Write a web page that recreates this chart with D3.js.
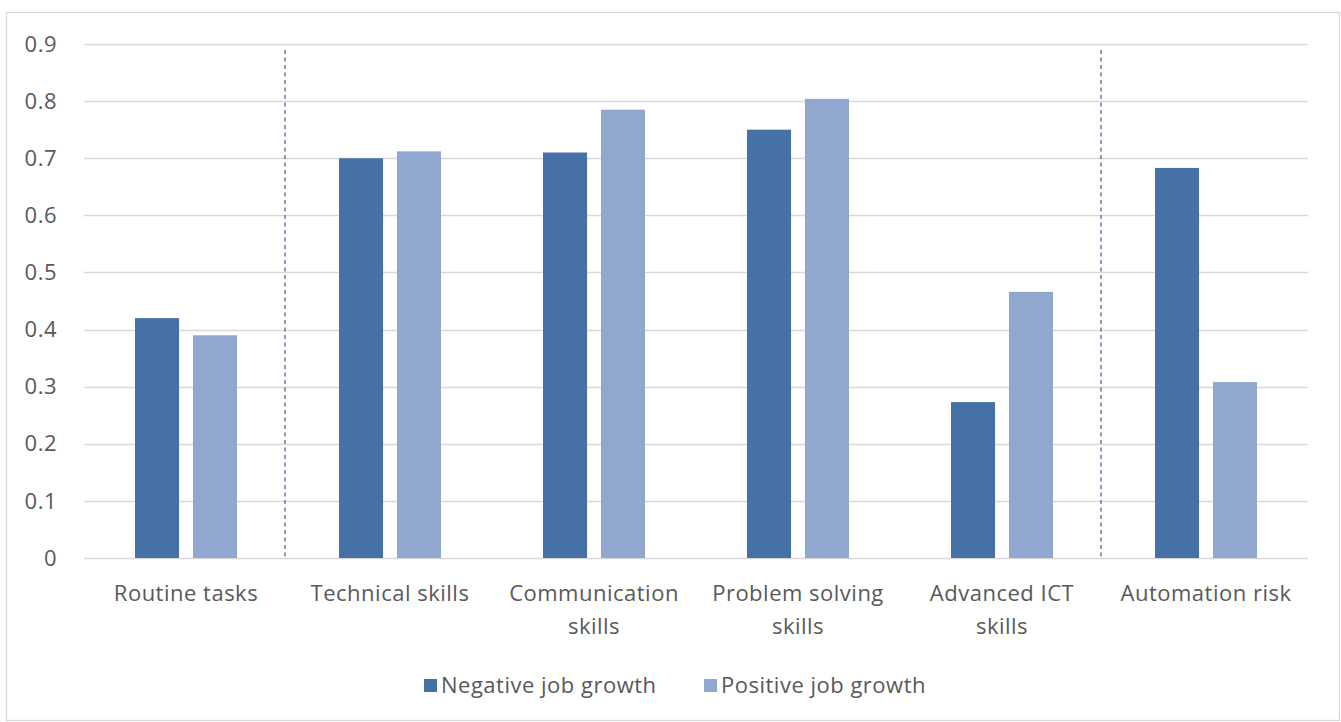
<!DOCTYPE html>
<meta charset="utf-8">
<style>
body { margin: 0; background: #fff; }
text { font-family: "Open Sans", sans-serif; fill: #595959; letter-spacing: 0.5px; }
.grid line { stroke: #d9d9d9; stroke-width: 1.3px; }
</style>
<svg width="1341" height="722"></svg>
<script src="https://cdn.jsdelivr.net/npm/d3@7"></script>
<script>

var categories = ["Routine tasks", "Technical skills", "Communication skills", "Problem solving skills", "Advanced ICT skills", "Automation risk"];
var labelLines = [["Routine tasks"], ["Technical skills"], ["Communication", "skills"], ["Problem solving", "skills"], ["Advanced ICT", "skills"], ["Automation risk"]];
var seriesNames = ["Negative job growth", "Positive job growth"];
var negative = [0.42, 0.70, 0.71, 0.75, 0.273, 0.683];
var positive = [0.39, 0.712, 0.785, 0.804, 0.466, 0.308];
var yTicks = [0, 0.1, 0.2, 0.3, 0.4, 0.5, 0.6, 0.7, 0.8, 0.9];
// dashed separators sit after these categories
var separatorsAfter = ["Routine tasks", "Advanced ICT skills"];

var colors = ["#4571a7", "#90a8d0"];

var svg = d3.select("svg");

// outer frame
svg.append("rect")
    .attr("x", 6.5).attr("y", 12.5)
    .attr("width", 1333).attr("height", 708)
    .attr("fill", "none")
    .attr("stroke", "#d9d9d9")
    .attr("stroke-width", 1.3);

var x = d3.scaleBand()
    .domain(categories)
    .range([84, 1308]);

var y = d3.scaleLinear()
    .domain([0, 0.9])
    .range([558, 44]);

var inner = d3.scaleBand()
    .domain(seriesNames)
    .range([0, 102])
    .paddingInner(0.24);

// gridlines
var grid = svg.append("g").attr("class", "grid");
grid.selectAll("line")
    .data(yTicks)
    .enter().append("line")
    .attr("x1", 84).attr("x2", 1308)
    .attr("y1", function(d) { return Math.round(y(d)) + 0.5; })
    .attr("y2", function(d) { return Math.round(y(d)) + 0.5; });

// y labels
svg.selectAll(".ylab")
    .data(yTicks)
    .enter().append("text")
    .attr("class", "ylab")
    .attr("x", 57)
    .attr("y", function(d) { return y(d); })
    .attr("dy", "0.35em")
    .attr("text-anchor", "end")
    .attr("font-size", 22)
    .text(function(d) { return d === 0 ? "0" : d3.format(".1f")(d); });

// separators
svg.selectAll(".sep")
    .data(separatorsAfter)
    .enter().append("line")
    .attr("class", "sep")
    .attr("x1", function(d) { return x(d) + x.bandwidth() - 3; })
    .attr("x2", function(d) { return x(d) + x.bandwidth() - 3; })
    .attr("y1", 50)
    .attr("y2", y(0))
    .attr("stroke", "#4f6a8a")
    .attr("stroke-width", 1.3)
    .attr("stroke-dasharray", "4,3.5");

// bars
var rows = categories.map(function(c, i) {
  return { cat: c, vals: [negative[i], positive[i]] };
});

var groups = svg.selectAll(".cat")
    .data(rows)
    .enter().append("g")
    .attr("class", "cat")
    .attr("transform", function(d) { return "translate(" + (x(d.cat) + 51) + ",0)"; });

groups.selectAll("rect")
    .data(function(d) { return d.vals.map(function(v, j) { return { s: seriesNames[j], v: v, j: j }; }); })
    .enter().append("rect")
    .attr("x", function(d) { return inner(d.s); })
    .attr("y", function(d) { return y(d.v); })
    .attr("width", inner.bandwidth())
    .attr("height", function(d) { return y(0) - y(d.v); })
    .attr("fill", function(d) { return colors[d.j]; });

// x labels
var xl = svg.selectAll(".xlab")
    .data(categories)
    .enter().append("text")
    .attr("class", "xlab")
    .attr("text-anchor", "middle")
    .attr("font-size", 22)
    .attr("x", function(d) { return x(d) + x.bandwidth() / 2; })
    .attr("y", 601);

xl.each(function(d, i) {
  var t = d3.select(this);
  labelLines[i].forEach(function(line, k) {
    t.append("tspan")
      .attr("x", x(d) + x.bandwidth() / 2)
      .attr("dy", k === 0 ? 0 : 33)
      .text(line);
  });
});

// legend
var legendX = [424, 704];
var legend = svg.selectAll(".leg")
    .data(seriesNames)
    .enter().append("g")
    .attr("class", "leg")
    .attr("transform", function(d, i) { return "translate(" + legendX[i] + ",679)"; });

legend.append("rect")
    .attr("width", 13).attr("height", 13)
    .attr("fill", function(d, i) { return colors[i]; });

legend.append("text")
    .attr("x", 17)
    .attr("y", 6.5)
    .attr("dy", "0.35em")
    .attr("font-size", 22)
    .text(function(d) { return d; });

</script>
